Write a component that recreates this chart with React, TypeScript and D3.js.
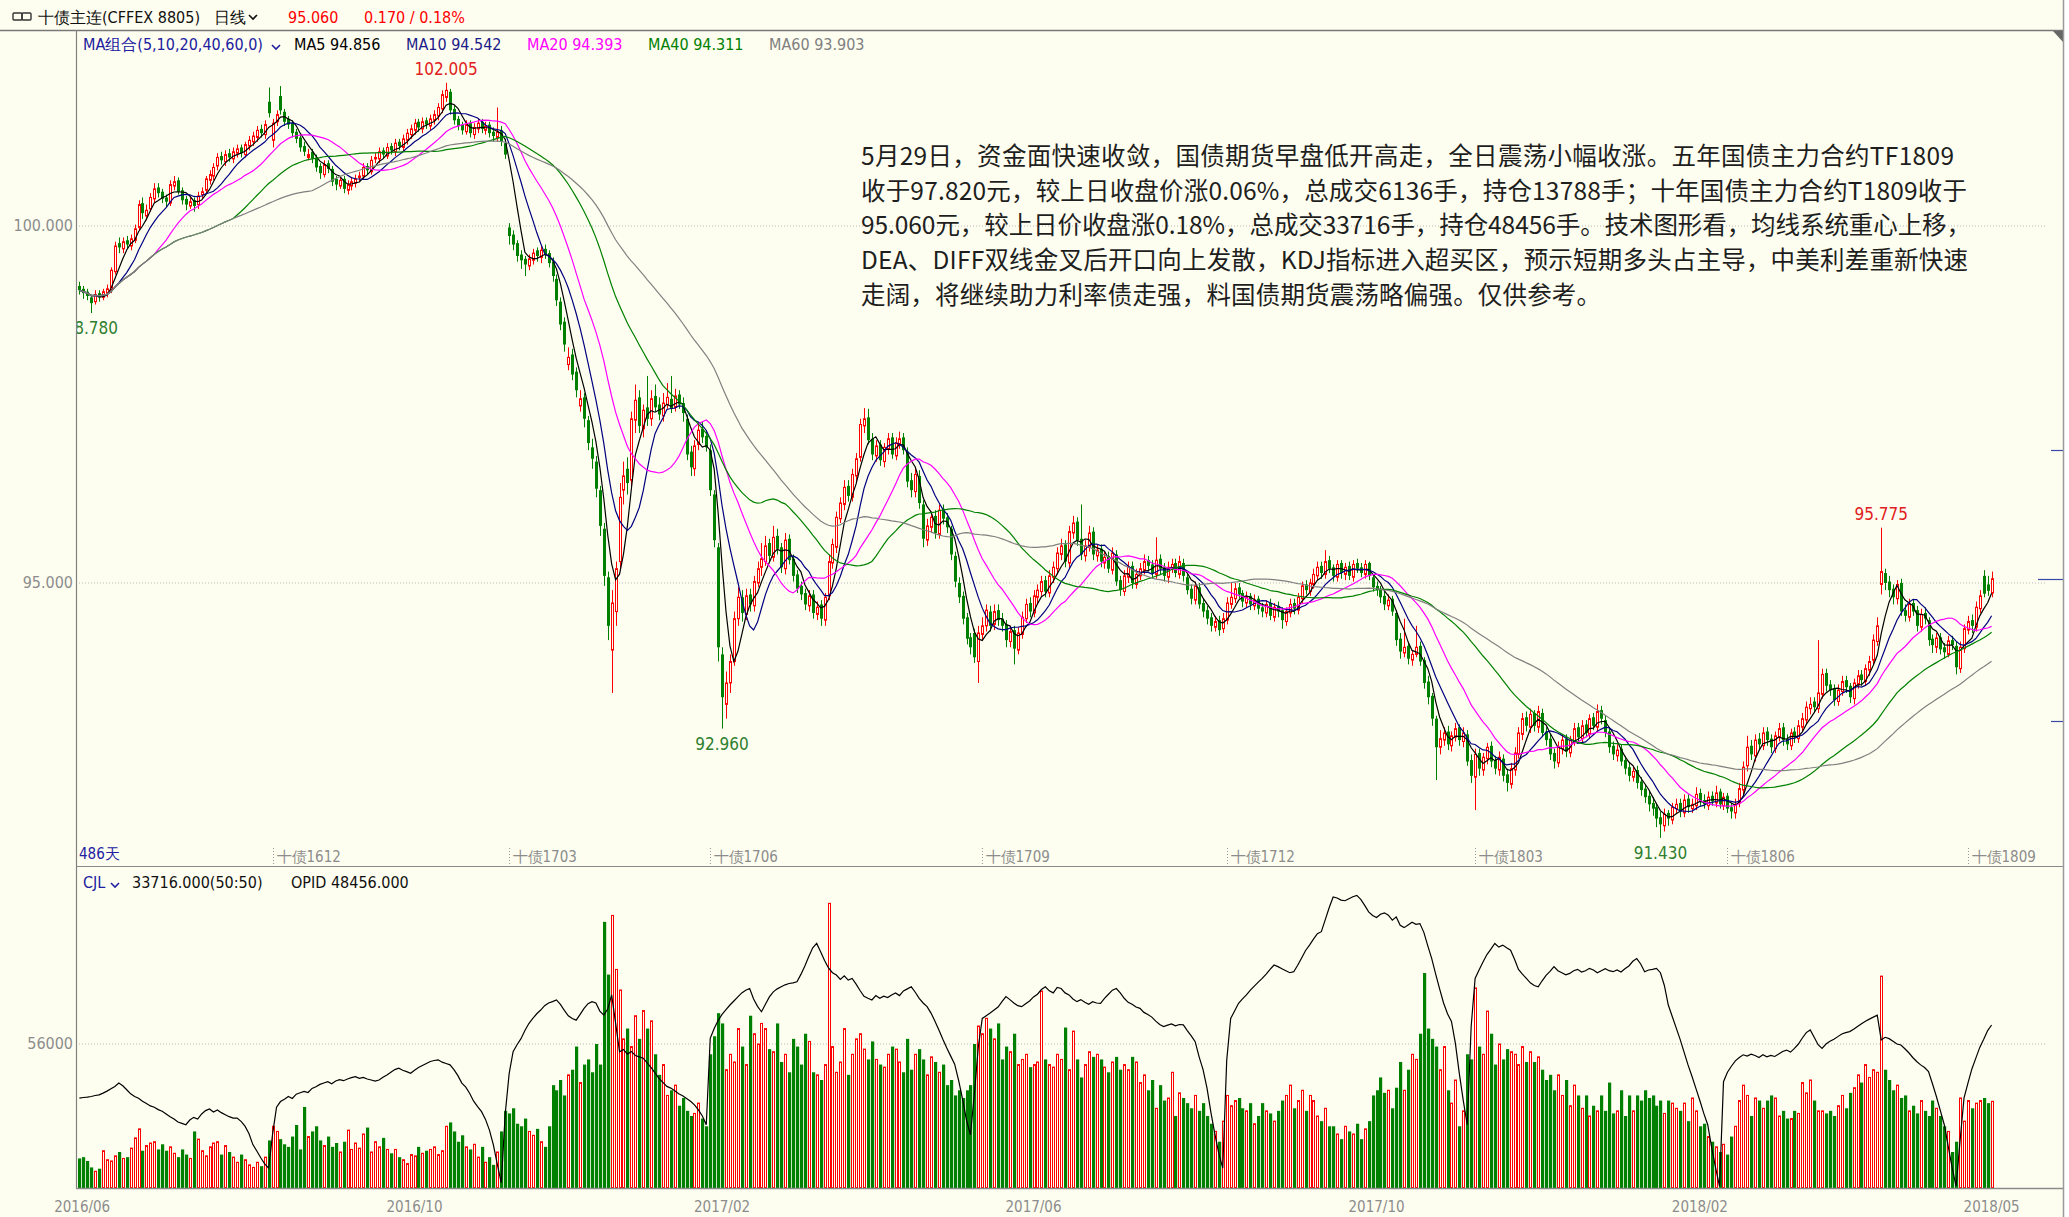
import React from "react";
import * as d3 from "d3";

const W = 2069;
const H = 1217;

// ---- daily data (486 trading days, 2016/06 - 2018/05/29) ----
const closePrices = [
  99.10, 99.06, 99.02, 98.92, 99.04, 99.00, 99.08, 99.12, 99.38, 99.72,
  99.70, 99.78, 99.74, 99.82, 99.96, 100.30, 100.18, 100.22, 100.40, 100.52,
  100.46, 100.38, 100.34, 100.58, 100.62, 100.48, 100.36, 100.30, 100.34, 100.28,
  100.42, 100.48, 100.66, 100.72, 100.82, 100.96, 100.92, 101.00, 100.96, 101.04,
  101.08, 101.02, 101.14, 101.20, 101.26, 101.34, 101.30, 101.42, 101.58, 101.44,
  101.56, 101.62, 101.46, 101.42, 101.30, 101.22, 101.10, 101.04, 101.00, 100.94,
  100.82, 100.74, 100.86, 100.80, 100.62, 100.58, 100.64, 100.52, 100.58, 100.62,
  100.66, 100.70, 100.82, 100.78, 100.92, 100.96, 101.04, 101.00, 101.10, 101.06,
  101.16, 101.12, 101.22, 101.30, 101.36, 101.44, 101.38, 101.46, 101.42, 101.50,
  101.56, 101.66, 101.84, 101.90, 101.62, 101.48, 101.40, 101.34, 101.42, 101.30,
  101.38, 101.44, 101.36, 101.40, 101.30, 101.26, 101.32, 101.18, 101.00, 99.86,
  99.74, 99.58, 99.52, 99.46, 99.54, 99.62, 99.58, 99.66, 99.60, 99.48,
  99.30, 98.96, 98.62, 98.34, 98.16, 97.92, 97.70, 97.58, 97.30, 96.96,
  96.74, 96.32, 95.80, 95.10, 94.40, 94.72, 95.20, 96.20, 96.50, 96.40,
  97.30, 97.56, 97.20, 97.42, 97.30, 97.58, 97.46, 97.36, 97.52, 97.60,
  97.44, 97.62, 97.50, 97.38, 96.80, 96.62, 96.92, 97.14, 97.04, 96.90,
  96.30, 95.60, 94.10, 93.40, 93.60, 93.90, 94.50, 94.80, 94.58, 94.82,
  94.70, 95.02, 95.20, 95.34, 95.52, 95.38, 95.64, 95.48, 95.22, 95.60,
  95.32, 95.10, 94.92, 94.84, 94.70, 94.82, 94.58, 94.66, 94.50, 94.80,
  95.30, 95.54, 95.92, 96.12, 96.34, 96.22, 96.52, 96.74, 97.22, 97.30,
  97.00, 96.80, 96.92, 96.72, 96.90, 97.02, 96.80, 96.96, 97.02, 96.86,
  96.42, 96.30, 96.52, 96.12, 95.62, 95.80, 95.92, 95.70, 96.02, 95.90,
  95.78, 95.40, 95.02, 94.80, 94.50, 94.22, 94.10, 93.96, 94.30, 94.40,
  94.62, 94.40, 94.60, 94.48, 94.40, 94.20, 94.32, 94.08, 94.30, 94.52,
  94.70, 94.60, 94.82, 94.90, 95.02, 94.88, 95.10, 95.22, 95.42, 95.52,
  95.30, 95.72, 95.84, 95.60, 95.40, 95.52, 95.70, 95.40, 95.46, 95.30,
  95.36, 95.20, 95.42, 95.02, 94.90, 95.10, 95.22, 95.00, 95.12, 95.20,
  95.30, 95.24, 95.14, 95.32, 95.20, 95.10, 95.22, 95.26, 95.14, 95.30,
  95.10, 94.90, 94.78, 94.96, 94.70, 94.60, 94.50, 94.40, 94.46, 94.34,
  94.50, 94.72, 94.80, 94.92, 94.84, 94.74, 94.80, 94.70, 94.76, 94.64,
  94.60, 94.70, 94.54, 94.66, 94.60, 94.48, 94.60, 94.70, 94.64, 94.80,
  94.96, 94.90, 95.00, 95.12, 95.22, 95.14, 95.30, 95.20, 95.10, 95.26,
  95.14, 95.22, 95.10, 95.26, 95.20, 95.14, 95.26, 95.10, 94.94, 94.90,
  94.80, 94.70, 94.76, 94.60, 94.20, 94.04, 94.10, 93.94, 94.00, 94.10,
  93.90, 93.60, 93.40, 93.10, 92.70, 92.82, 92.90, 92.74, 92.86, 92.96,
  92.80, 92.90, 92.50, 92.30, 92.60, 92.40, 92.56, 92.70, 92.50, 92.40,
  92.56, 92.30, 92.20, 92.40, 92.62, 92.90, 93.10, 93.00, 93.16, 93.00,
  93.20, 92.90, 92.80, 92.60, 92.50, 92.70, 92.80, 92.64, 92.80, 92.96,
  92.84, 93.00, 92.90, 93.10, 93.00, 93.20, 93.10, 92.90, 92.70, 92.60,
  92.66, 92.50, 92.40, 92.30, 92.36, 92.20, 92.10, 92.00, 91.90, 91.84,
  91.70, 91.62, 91.76, 91.70, 91.86, 91.90, 91.80, 91.96, 91.86, 91.90,
  92.04, 91.94, 91.90, 92.00, 91.94, 92.06, 91.90, 92.00, 91.84, 91.80,
  91.90, 92.12, 92.42, 92.70, 92.60, 92.80, 92.74, 92.90, 92.80, 92.70,
  92.86, 92.96, 92.80, 92.74, 92.90, 92.84, 93.00, 93.10, 93.26, 93.30,
  93.26, 93.46, 93.72, 93.56, 93.50, 93.36, 93.50, 93.62, 93.54, 93.40,
  93.60, 93.70, 93.64, 93.80, 93.90, 94.20, 94.40, 95.16, 95.00, 94.90,
  94.80, 94.98, 94.60, 94.54, 94.70, 94.60, 94.40, 94.56, 94.50, 94.20,
  94.13, 94.23, 94.07, 94.03, 94.19, 94.13, 93.82, 94.10, 94.36, 94.46,
  94.40, 94.66, 94.82, 94.85, 94.89, 95.06,
];

const openPrices = [
  99.16, 99.12, 99.08, 99.00, 98.94, 99.06, 99.00, 99.06, 99.10, 99.36,
  99.76, 99.68, 99.80, 99.72, 99.80, 99.98, 100.32, 100.14, 100.24, 100.38,
  100.54, 100.48, 100.40, 100.32, 100.56, 100.64, 100.50, 100.38, 100.28, 100.36,
  100.30, 100.44, 100.50, 100.64, 100.70, 100.84, 100.98, 100.90, 101.02, 100.94,
  101.02, 101.10, 101.00, 101.12, 101.18, 101.24, 101.36, 101.28, 101.74, 101.20,
  101.46, 101.82, 101.60, 101.50, 101.44, 101.32, 101.24, 101.12, 100.96, 101.04,
  100.96, 100.84, 100.72, 100.88, 100.80, 100.66, 100.56, 100.66, 100.50, 100.56,
  100.60, 100.68, 100.70, 100.84, 100.76, 100.94, 100.94, 101.06, 100.98, 101.12,
  101.04, 101.18, 101.10, 101.20, 101.28, 101.34, 101.46, 101.36, 101.48, 101.40,
  101.48, 101.54, 101.64, 101.80, 101.88, 101.64, 101.50, 101.42, 101.32, 101.44,
  101.28, 101.36, 101.46, 101.34, 101.42, 101.32, 101.24, 101.34, 101.16, 99.98,
  99.88, 99.76, 99.60, 99.54, 99.44, 99.52, 99.66, 99.56, 99.68, 99.62,
  99.50, 99.26, 98.94, 98.66, 98.06, 98.20, 97.96, 97.48, 97.60, 97.28,
  96.90, 96.70, 96.30, 95.76, 95.08, 94.06, 94.60, 95.30, 96.30, 96.60,
  96.44, 97.28, 97.60, 97.16, 97.46, 97.30, 97.62, 97.50, 97.34, 97.50,
  97.58, 97.46, 97.64, 97.52, 97.30, 96.84, 96.60, 96.94, 97.16, 97.06,
  96.86, 96.24, 95.50, 94.00, 93.30, 93.60, 93.90, 94.50, 94.80, 94.56,
  94.84, 94.68, 95.00, 95.22, 95.30, 95.56, 95.36, 95.66, 95.50, 95.20,
  95.62, 95.34, 95.12, 94.96, 94.86, 94.68, 94.84, 94.56, 94.70, 94.48,
  94.82, 95.28, 95.50, 95.90, 96.10, 96.36, 96.20, 96.50, 96.76, 97.20,
  97.32, 97.02, 96.78, 96.94, 96.70, 96.88, 97.04, 96.78, 96.94, 97.04,
  96.84, 96.44, 96.28, 96.50, 96.10, 95.60, 95.78, 95.94, 95.68, 96.04,
  95.92, 95.76, 95.38, 95.00, 94.82, 94.52, 94.24, 94.30, 93.90, 94.28,
  94.40, 94.60, 94.42, 94.62, 94.50, 94.42, 94.18, 94.34, 94.06, 94.28,
  94.50, 94.72, 94.58, 94.80, 94.88, 95.04, 94.86, 95.08, 95.20, 95.40,
  95.54, 95.28, 95.70, 95.86, 95.62, 95.38, 95.50, 95.72, 95.38, 95.48,
  95.28, 95.38, 95.18, 95.40, 95.04, 94.88, 95.08, 95.24, 94.98, 95.10,
  95.18, 95.32, 95.26, 95.12, 95.34, 95.22, 95.08, 95.20, 95.28, 95.12,
  95.28, 95.08, 94.92, 94.76, 94.94, 94.72, 94.62, 94.52, 94.38, 94.48,
  94.36, 94.48, 94.70, 94.78, 94.94, 94.86, 94.72, 94.82, 94.68, 94.78,
  94.66, 94.58, 94.72, 94.52, 94.68, 94.62, 94.46, 94.58, 94.72, 94.62,
  94.78, 94.98, 94.88, 94.98, 95.10, 95.24, 95.12, 95.32, 95.22, 95.08,
  95.28, 95.12, 95.24, 95.08, 95.28, 95.22, 95.12, 95.28, 95.08, 94.96,
  94.92, 94.82, 94.68, 94.78, 94.58, 94.22, 94.02, 94.12, 93.92, 94.00,
  94.12, 93.92, 93.62, 93.42, 93.10, 92.70, 92.80, 92.92, 92.72, 92.84,
  92.98, 92.78, 92.88, 92.52, 92.28, 92.62, 92.38, 92.54, 92.72, 92.52,
  92.38, 92.54, 92.32, 92.18, 92.38, 92.60, 92.88, 93.12, 92.98, 93.18,
  92.98, 93.18, 92.92, 92.82, 92.62, 92.48, 92.68, 92.82, 92.62, 92.78,
  92.98, 92.82, 93.02, 92.88, 93.12, 92.98, 93.22, 93.08, 92.92, 92.72,
  92.58, 92.68, 92.52, 92.42, 92.28, 92.38, 92.22, 92.12, 92.02, 91.92,
  91.86, 91.72, 91.60, 91.78, 91.68, 91.84, 91.92, 91.78, 91.98, 91.84,
  91.88, 92.06, 91.96, 91.88, 92.02, 91.92, 92.08, 91.88, 92.02, 91.86,
  91.78, 91.92, 92.10, 92.44, 92.72, 92.58, 92.82, 92.72, 92.92, 92.82,
  92.68, 92.84, 92.98, 92.82, 92.72, 92.92, 92.82, 92.98, 93.08, 93.24,
  93.34, 93.24, 93.44, 93.74, 93.58, 93.52, 93.34, 93.48, 93.64, 93.56,
  93.38, 93.58, 93.72, 93.62, 93.78, 93.92, 94.18, 94.98, 95.14, 95.02,
  94.92, 94.78, 95.00, 94.62, 94.52, 94.72, 94.62, 94.38, 94.58, 94.48,
  94.22, 94.10, 94.24, 94.10, 94.00, 94.20, 94.12, 93.80, 94.08, 94.34,
  94.48, 94.38, 94.64, 95.10, 94.98, 94.86,
];

const highPrices = [
  99.22, 99.16, 99.12, 99.04, 99.10, 99.10, 99.12, 99.18, 99.42, 99.78,
  99.84, 99.84, 99.86, 99.88, 100.02, 100.36, 100.40, 100.30, 100.46, 100.60,
  100.60, 100.52, 100.44, 100.64, 100.70, 100.68, 100.54, 100.42, 100.40, 100.40,
  100.48, 100.54, 100.70, 100.78, 100.88, 101.02, 101.04, 101.06, 101.08, 101.10,
  101.14, 101.14, 101.18, 101.26, 101.32, 101.40, 101.42, 101.48, 101.94, 101.50,
  101.62, 101.96, 101.64, 101.54, 101.48, 101.36, 101.28, 101.18, 101.08, 101.08,
  101.00, 100.88, 100.92, 100.92, 100.84, 100.70, 100.70, 100.70, 100.64, 100.68,
  100.72, 100.76, 100.88, 100.88, 100.98, 101.02, 101.10, 101.10, 101.16, 101.16,
  101.22, 101.22, 101.28, 101.36, 101.42, 101.50, 101.50, 101.52, 101.52, 101.56,
  101.62, 101.72, 101.90, 102.005, 101.92, 101.68, 101.54, 101.46, 101.48, 101.48,
  101.44, 101.50, 101.50, 101.46, 101.46, 101.38, 101.66, 101.40, 101.22, 100.04,
  99.94, 99.80, 99.66, 99.58, 99.60, 99.68, 99.70, 99.72, 99.74, 99.66,
  99.56, 99.32, 99.00, 98.72, 98.30, 98.28, 98.02, 97.70, 97.66, 97.34,
  97.02, 96.78, 96.36, 95.84, 95.16, 94.90, 95.30, 96.40, 96.70, 96.76,
  97.40, 97.78, 97.70, 97.50, 97.90, 97.70, 97.78, 97.60, 97.66, 97.80,
  97.90, 97.72, 97.70, 97.60, 97.36, 96.92, 97.00, 97.24, 97.26, 97.14,
  96.94, 96.30, 95.56, 94.10, 93.76, 94.00, 94.60, 94.94, 94.90, 94.92,
  94.92, 95.10, 95.30, 95.56, 95.66, 95.62, 95.80, 95.76, 95.56, 95.70,
  95.68, 95.40, 95.18, 95.02, 94.92, 94.90, 94.90, 94.74, 94.76, 94.86,
  95.40, 95.62, 96.00, 96.20, 96.44, 96.44, 96.60, 96.82, 97.30, 97.45,
  97.44, 97.10, 97.00, 97.00, 96.96, 97.10, 97.10, 97.04, 97.12, 97.10,
  96.90, 96.54, 96.60, 96.58, 96.16, 95.90, 96.00, 96.02, 96.10, 96.10,
  95.98, 95.80, 95.44, 95.08, 94.88, 94.58, 94.30, 94.36, 94.40, 94.52,
  94.70, 94.68, 94.70, 94.70, 94.58, 94.48, 94.40, 94.40, 94.38, 94.60,
  94.78, 94.80, 94.90, 94.98, 95.10, 95.10, 95.18, 95.30, 95.50, 95.62,
  95.60, 95.80, 95.94, 95.92, 96.10, 95.60, 95.80, 95.78, 95.54, 95.54,
  95.44, 95.44, 95.50, 95.46, 95.10, 95.18, 95.30, 95.30, 95.20, 95.28,
  95.40, 95.38, 95.32, 95.64, 95.40, 95.28, 95.30, 95.34, 95.34, 95.38,
  95.34, 95.14, 94.98, 95.02, 95.00, 94.78, 94.68, 94.58, 94.54, 94.54,
  94.58, 94.80, 95.00, 95.00, 95.00, 94.90, 94.88, 94.86, 94.84, 94.82,
  94.72, 94.76, 94.78, 94.72, 94.74, 94.66, 94.66, 94.78, 94.78, 94.86,
  95.02, 95.04, 95.06, 95.20, 95.30, 95.30, 95.46, 95.38, 95.26, 95.32,
  95.32, 95.28, 95.30, 95.32, 95.34, 95.28, 95.32, 95.30, 95.12, 95.02,
  94.96, 94.88, 94.84, 94.82, 94.62, 94.30, 94.50, 94.16, 94.06, 94.40,
  94.18, 93.96, 93.70, 93.46, 93.14, 92.94, 92.98, 93.00, 92.92, 93.04,
  93.02, 92.98, 92.94, 92.60, 92.68, 92.68, 92.62, 92.76, 92.78, 92.58,
  92.64, 92.60, 92.40, 92.48, 92.70, 92.98, 93.18, 93.20, 93.24, 93.22,
  93.28, 93.24, 92.98, 92.88, 92.68, 92.78, 92.88, 92.88, 92.86, 93.04,
  93.04, 93.08, 93.08, 93.16, 93.18, 93.30, 93.28, 93.14, 92.98, 92.78,
  92.74, 92.74, 92.58, 92.48, 92.44, 92.44, 92.28, 92.18, 92.08, 92.00,
  91.92, 91.80, 91.84, 91.82, 91.92, 91.98, 91.98, 92.04, 92.04, 91.98,
  92.14, 92.12, 92.04, 92.08, 92.08, 92.16, 92.12, 92.06, 92.06, 91.92,
  91.98, 92.20, 92.50, 92.86, 92.80, 92.88, 92.90, 92.98, 92.98, 92.88,
  92.92, 93.04, 93.04, 92.88, 92.96, 92.98, 93.08, 93.18, 93.34, 93.40,
  93.40, 94.20, 93.80, 93.80, 93.64, 93.58, 93.58, 93.70, 93.70, 93.60,
  93.66, 93.78, 93.78, 93.86, 93.98, 94.28, 94.52, 95.775, 95.20, 95.10,
  94.98, 95.04, 95.06, 94.70, 94.78, 94.78, 94.68, 94.64, 94.66, 94.52,
  94.28, 94.30, 94.30, 94.16, 94.26, 94.26, 94.18, 94.18, 94.42, 94.54,
  94.56, 94.74, 94.90, 95.18, 95.10, 95.16,
];

const lowPrices = [
  99.04, 98.98, 98.96, 98.78, 98.90, 98.94, 98.96, 99.00, 99.06, 99.32,
  99.62, 99.62, 99.68, 99.66, 99.76, 99.94, 100.10, 100.08, 100.20, 100.32,
  100.40, 100.32, 100.26, 100.28, 100.50, 100.44, 100.30, 100.22, 100.24, 100.20,
  100.24, 100.38, 100.44, 100.58, 100.64, 100.78, 100.86, 100.84, 100.90, 100.88,
  100.96, 100.96, 100.96, 101.06, 101.12, 101.18, 101.24, 101.22, 101.52, 101.10,
  101.40, 101.56, 101.40, 101.36, 101.24, 101.16, 101.04, 100.98, 100.92, 100.88,
  100.76, 100.66, 100.68, 100.74, 100.56, 100.50, 100.52, 100.46, 100.44, 100.50,
  100.54, 100.62, 100.66, 100.72, 100.72, 100.88, 100.88, 100.94, 100.94, 101.00,
  100.98, 101.06, 101.04, 101.14, 101.22, 101.28, 101.32, 101.30, 101.36, 101.34,
  101.42, 101.48, 101.58, 101.74, 101.56, 101.42, 101.34, 101.28, 101.28, 101.24,
  101.22, 101.30, 101.30, 101.28, 101.24, 101.18, 101.18, 101.12, 100.94, 99.74,
  99.66, 99.50, 99.40, 99.30, 99.38, 99.46, 99.50, 99.48, 99.54, 99.42,
  99.22, 98.88, 98.54, 98.24, 97.98, 97.84, 97.60, 97.40, 97.18, 96.86,
  96.60, 96.20, 95.66, 94.96, 94.20, 93.46, 94.40, 95.20, 96.10, 96.24,
  96.36, 97.10, 97.10, 97.04, 97.20, 97.20, 97.40, 97.28, 97.26, 97.44,
  97.38, 97.40, 97.44, 97.26, 96.72, 96.50, 96.50, 96.86, 96.96, 96.84,
  96.22, 95.50, 93.90, 92.96, 93.10, 93.46, 93.84, 94.40, 94.46, 94.48,
  94.60, 94.60, 94.94, 95.10, 95.24, 95.30, 95.30, 95.40, 95.14, 95.12,
  95.26, 95.02, 94.86, 94.76, 94.62, 94.60, 94.50, 94.48, 94.40, 94.40,
  94.76, 95.20, 95.42, 95.84, 96.02, 96.14, 96.14, 96.42, 96.70, 97.10,
  96.94, 96.72, 96.70, 96.64, 96.62, 96.80, 96.74, 96.72, 96.88, 96.80,
  96.34, 96.20, 96.20, 96.04, 95.50, 95.52, 95.70, 95.62, 95.62, 95.82,
  95.70, 95.32, 94.94, 94.72, 94.42, 94.14, 94.00, 93.88, 93.60, 94.20,
  94.32, 94.32, 94.34, 94.40, 94.32, 94.10, 94.10, 93.86, 94.00, 94.22,
  94.44, 94.52, 94.52, 94.72, 94.82, 94.80, 94.80, 95.00, 95.12, 95.32,
  95.22, 95.20, 95.62, 95.52, 95.32, 95.30, 95.44, 95.32, 95.30, 95.22,
  95.20, 95.14, 95.12, 94.96, 94.82, 94.82, 95.00, 94.92, 94.92, 95.04,
  95.12, 95.16, 95.06, 95.06, 95.12, 95.02, 95.00, 95.14, 95.08, 95.06,
  95.02, 94.84, 94.70, 94.70, 94.64, 94.52, 94.42, 94.32, 94.32, 94.26,
  94.30, 94.42, 94.64, 94.72, 94.78, 94.66, 94.66, 94.62, 94.62, 94.56,
  94.52, 94.52, 94.48, 94.46, 94.52, 94.36, 94.40, 94.52, 94.56, 94.56,
  94.72, 94.84, 94.82, 94.92, 95.04, 95.06, 95.06, 95.14, 95.02, 95.02,
  95.06, 95.04, 95.04, 95.02, 95.14, 95.08, 95.06, 95.04, 94.88, 94.82,
  94.72, 94.62, 94.62, 94.54, 94.12, 93.94, 93.96, 93.86, 93.84, 93.96,
  93.84, 93.52, 93.30, 93.00, 92.24, 92.60, 92.72, 92.66, 92.64, 92.78,
  92.72, 92.70, 92.44, 92.20, 91.82, 92.30, 92.30, 92.46, 92.42, 92.32,
  92.30, 92.22, 92.08, 92.12, 92.30, 92.54, 92.80, 92.92, 92.90, 92.92,
  92.90, 92.84, 92.72, 92.52, 92.40, 92.42, 92.60, 92.56, 92.56, 92.72,
  92.76, 92.76, 92.84, 92.82, 92.94, 92.92, 93.02, 92.84, 92.62, 92.52,
  92.50, 92.44, 92.32, 92.22, 92.22, 92.12, 92.02, 91.92, 91.80, 91.74,
  91.58, 91.43, 91.52, 91.60, 91.62, 91.78, 91.72, 91.72, 91.78, 91.78,
  91.82, 91.88, 91.84, 91.82, 91.88, 91.86, 91.84, 91.82, 91.78, 91.70,
  91.70, 91.86, 92.04, 92.36, 92.52, 92.50, 92.66, 92.66, 92.72, 92.62,
  92.62, 92.78, 92.72, 92.66, 92.66, 92.76, 92.76, 92.92, 93.02, 93.16,
  93.18, 93.18, 93.38, 93.48, 93.42, 93.28, 93.28, 93.42, 93.46, 93.32,
  93.30, 93.52, 93.56, 93.56, 93.70, 93.86, 94.12, 94.84, 94.90, 94.80,
  94.70, 94.70, 94.54, 94.46, 94.46, 94.54, 94.32, 94.32, 94.42, 94.12,
  94.02, 94.02, 94.00, 93.94, 93.96, 94.06, 93.72, 93.74, 94.02, 94.28,
  94.30, 94.32, 94.58, 94.80, 94.82, 94.80,
];

// volume, thousand lots
const volumeK = [
  11.5, 12.0, 10.5, 8.0, 6.5, 7.5, 14.5, 11.0, 10.5, 12.5,
  14.0, 11.5, 12.0, 15.5, 19.5, 23.0, 14.5, 16.5, 17.5, 18.0,
  15.0, 17.0, 14.5, 16.0, 13.5, 12.0, 15.0, 13.0, 11.5, 22.0,
  19.0, 14.5, 12.5, 16.0, 17.5, 18.0, 13.0, 16.5, 14.0, 12.0,
  10.0, 13.0, 11.0, 9.0, 8.0, 10.0, 8.5, 12.0, 18.5, 24.0,
  22.0, 19.0, 17.0, 16.0, 20.0, 24.5, 15.0, 31.5, 20.0, 22.0,
  24.0, 18.5, 16.5, 20.0, 16.0, 17.5, 14.0, 18.0, 22.5, 15.0,
  17.5, 15.5, 21.0, 23.5, 14.0, 18.0, 16.0, 19.5, 15.0, 13.5,
  15.0, 12.0, 11.0, 9.5, 13.0, 12.5, 16.0, 13.5, 14.5, 15.0,
  16.0, 13.0, 14.5, 24.0, 25.5, 22.0, 18.0, 20.5, 16.0, 15.0,
  17.0, 12.0, 16.0, 10.0, 12.0, 9.0, 14.0, 22.0, 30.0, 29.0,
  31.0, 25.0, 24.0, 27.0, 22.0, 20.5, 23.0, 18.0, 16.0, 24.0,
  40.0, 38.0, 42.0, 36.0, 44.0, 46.0, 55.0, 41.0, 48.0, 50.0,
  45.0, 56.0, 48.0, 103.5, 83.0, 106.0, 85.0, 77.0, 58.0, 62.0,
  55.0, 67.0, 58.0, 69.0, 62.0, 65.0, 52.0, 44.0, 48.0, 36.0,
  38.0, 40.0, 32.0, 35.0, 30.0, 28.0, 29.0, 33.0, 27.0, 24.0,
  52.0, 59.0, 68.0, 64.0, 46.0, 52.0, 49.0, 62.0, 55.0, 48.0,
  67.0, 60.0, 56.0, 64.0, 62.0, 54.0, 53.0, 64.0, 49.0, 52.0,
  45.0, 58.0, 55.0, 48.0, 60.0, 57.0, 45.0, 44.0, 42.0, 48.0,
  110.7, 55.0, 45.0, 49.0, 62.0, 44.0, 52.0, 58.0, 60.0, 54.0,
  50.0, 57.0, 50.0, 48.0, 47.0, 52.0, 55.0, 54.0, 49.0, 45.0,
  58.0, 46.0, 52.0, 54.0, 50.0, 44.0, 51.0, 49.0, 45.0, 48.0,
  40.0, 42.0, 36.0, 38.0, 35.0, 38.0, 40.0, 56.0, 63.0, 60.0,
  66.0, 62.0, 58.0, 64.0, 50.0, 55.0, 53.0, 60.0, 48.0, 50.0,
  52.0, 47.0, 48.0, 49.0, 76.6, 50.0, 48.0, 47.0, 52.0, 50.0,
  62.4, 46.0, 61.0, 50.0, 43.0, 48.0, 53.0, 51.0, 52.0, 50.0,
  47.0, 45.0, 49.0, 51.0, 46.0, 48.0, 46.0, 51.0, 49.0, 41.0,
  44.0, 38.0, 42.0, 31.0, 40.0, 34.0, 35.0, 45.0, 28.0, 37.0,
  35.0, 33.0, 31.0, 36.0, 30.0, 33.0, 28.0, 25.0, 22.0, 18.0,
  26.0, 36.0, 32.0, 34.0, 35.0, 31.0, 30.0, 33.0, 25.0, 28.0,
  33.0, 30.0, 29.0, 26.0, 30.0, 34.0, 36.0, 40.0, 31.0, 34.0,
  38.0, 30.0, 36.0, 34.0, 28.0, 26.0, 31.0, 24.0, 24.0, 21.0,
  19.0, 24.0, 22.0, 21.0, 25.0, 19.0, 23.0, 26.0, 36.0, 38.0,
  43.0, 37.0, 38.0, 31.0, 39.0, 49.0, 38.0, 46.0, 52.0, 50.0,
  60.0, 83.6, 62.0, 58.0, 55.0, 46.0, 55.0, 38.0, 33.0, 42.0,
  24.0, 30.0, 52.0, 50.0, 77.8, 55.0, 52.0, 68.8, 60.0, 48.0,
  56.0, 50.0, 54.0, 53.0, 52.0, 48.0, 55.0, 49.0, 53.0, 49.0,
  51.0, 46.0, 42.0, 44.0, 38.0, 44.0, 36.0, 42.0, 32.0, 40.0,
  36.0, 31.0, 36.0, 28.0, 32.0, 30.0, 36.0, 30.0, 41.0, 29.0,
  30.0, 38.0, 28.0, 36.0, 30.0, 36.0, 34.0, 38.0, 35.0, 36.0,
  32.0, 34.0, 29.0, 34.0, 33.0, 31.0, 30.0, 33.0, 26.0, 35.0,
  30.0, 24.0, 25.0, 20.0, 18.0, 16.0, 14.0, 17.0, 13.0, 20.0,
  24.0, 34.0, 40.0, 36.0, 28.0, 35.0, 34.0, 31.0, 34.0, 36.0,
  35.0, 28.0, 30.0, 27.0, 27.0, 30.0, 29.0, 41.0, 37.0, 42.0,
  34.0, 30.0, 30.0, 29.0, 30.0, 28.0, 32.0, 36.0, 31.0, 37.0,
  39.0, 44.0, 41.0, 48.0, 43.0, 46.0, 45.0, 82.4, 46.0, 42.0,
  38.0, 40.0, 35.0, 36.0, 30.0, 32.0, 29.0, 34.0, 30.0, 28.0,
  34.0, 31.0, 28.0, 24.0, 22.0, 14.0, 18.0, 35.0, 26.0, 34.0,
  31.0, 33.0, 34.0, 35.0, 33.0, 33.716,
];

// open interest (OPID), thousand lots
const openInterestK = [
  26.7, 26.9, 27.0, 27.2, 27.5, 27.7, 28.2, 28.8, 29.5, 30.2,
  31.2, 30.4, 29.2, 28.0, 27.2, 26.7, 25.8, 25.1, 24.4, 24.0,
  23.3, 22.8, 22.0, 21.2, 20.5, 19.6, 19.2, 18.8, 20.2, 21.0,
  20.5, 22.0, 23.0, 23.5, 22.6, 23.2, 22.4, 21.8, 21.2, 20.8,
  20.8, 19.8, 18.4, 16.2, 12.9, 11.0, 9.0, 7.2, 5.9, 16.0,
  24.0, 25.7, 26.4, 27.2, 26.6, 27.9, 28.3, 28.7, 28.4, 29.6,
  30.1, 30.8, 31.2, 31.6, 31.0, 31.8, 32.2, 31.9, 32.4, 32.8,
  33.1, 32.6, 32.9, 32.4, 32.1, 31.8, 32.1, 32.9, 33.6, 34.4,
  35.2, 35.6, 35.0, 34.6, 34.1, 35.0, 35.8, 36.4, 37.0, 37.6,
  37.9, 38.1, 37.4, 37.0, 36.6, 35.2, 33.4, 31.2, 30.0, 28.1,
  25.8, 24.2, 22.7, 20.4, 17.2, 12.8, 7.0, 1.5, 22.0, 34.0,
  40.5, 42.6, 44.4, 46.8, 48.9, 50.4, 51.8, 52.9, 54.2, 55.0,
  55.4, 55.9, 54.6, 52.8, 51.2, 50.4, 49.9, 51.6, 53.4, 54.8,
  55.4, 55.0, 52.6, 51.4, 53.2, 57.4, 49.0, 40.5, 41.2, 39.8,
  40.6, 39.4, 39.0, 38.6, 37.2, 35.8, 34.2, 32.6, 31.4, 30.2,
  29.7, 28.9, 28.0, 27.4, 26.6, 25.8, 24.7, 23.2, 21.4, 18.8,
  44.5, 47.4, 49.8, 51.6, 53.0, 54.4, 55.6, 56.8, 58.0, 58.8,
  59.3, 56.2, 54.0, 52.4, 54.6, 56.8, 58.3, 59.2, 59.8, 60.4,
  60.8, 61.0, 61.3, 63.5, 66.0, 68.8, 71.4, 72.7, 70.2, 67.6,
  65.4, 64.0, 63.3, 62.0, 63.1, 61.8, 62.3, 60.6, 58.7, 57.0,
  56.4, 55.9, 57.2, 56.4, 57.0, 56.6, 57.4, 58.0, 57.2, 58.6,
  59.2, 59.8, 58.2, 56.4, 55.0, 53.9, 52.0, 49.6, 47.0, 44.2,
  41.6, 39.2, 36.8, 32.0, 26.4, 20.2, 15.8, 28.0, 42.0, 50.4,
  51.2, 52.0, 52.9, 53.8, 55.4, 56.9, 56.0, 55.0, 54.2, 53.9,
  54.8, 55.6, 56.8, 57.6, 59.0, 59.8, 58.6, 58.0, 59.6, 59.3,
  58.0, 57.4, 56.2, 55.4, 56.0, 55.2, 54.6, 55.4, 55.0, 54.9,
  56.4, 57.6, 58.8, 59.3, 58.0, 56.4, 55.2, 54.6, 53.8, 53.4,
  52.2, 51.6, 50.8, 49.6, 48.6, 48.0, 48.4, 48.8, 48.2, 48.6,
  48.5, 46.8, 45.2, 43.5, 39.0, 35.2, 29.7, 22.4, 16.0, 10.2,
  5.9, 38.0, 50.4, 52.6, 54.9, 56.2, 57.4, 58.8, 60.0, 61.2,
  62.3, 63.6, 65.0, 66.3, 65.8, 65.2, 64.6, 64.0, 64.3, 66.2,
  68.4, 70.6, 72.2, 74.0, 75.6, 76.2, 79.8, 83.4, 86.5, 86.2,
  85.6, 85.4, 86.0, 86.6, 87.0, 85.8, 84.0, 82.1, 81.0, 80.4,
  81.4, 81.8, 81.1, 79.6, 80.6, 78.1, 77.4, 78.2, 79.0, 78.4,
  78.6, 76.0, 72.0, 68.2, 63.6, 59.2, 55.0, 51.8, 49.5, 43.0,
  34.0, 26.0, 18.8, 48.0, 62.3, 64.8, 67.2, 69.4, 71.0, 72.7,
  71.6, 72.2, 71.4, 70.7, 68.0, 65.0, 63.6, 62.3, 61.0, 60.2,
  59.8, 61.6, 63.2, 64.4, 65.8, 64.6, 64.0, 63.4, 63.8, 64.6,
  65.0, 64.2, 64.6, 65.3, 64.8, 64.0, 64.6, 65.2, 64.6, 64.3,
  64.8, 64.2, 65.2, 66.0, 67.4, 68.2, 66.6, 64.3, 64.8, 65.0,
  65.3, 64.0, 60.2, 54.4, 51.0, 47.6, 44.2, 40.4, 36.6, 33.2,
  29.6, 26.0, 22.2, 18.8, 12.0, 6.0, 0.5, 31.6, 34.4, 36.2,
  37.8, 38.8, 39.6, 39.2, 39.8, 39.4, 38.8, 39.6, 39.0, 39.4,
  39.1, 39.8, 40.6, 41.0, 40.4, 41.5, 42.8, 44.6, 46.2, 47.0,
  44.8, 42.6, 41.5, 42.8, 43.6, 44.2, 45.0, 45.8, 46.2, 46.5,
  47.2, 48.0, 48.8, 49.6, 50.2, 50.8, 51.4, 44.0, 44.8, 44.4,
  43.6, 42.8, 42.5, 41.4, 40.2, 38.8, 37.6, 36.6, 35.8, 34.6,
  31.0, 27.2, 23.0, 18.8, 12.4, 6.0, 0.5, 14.0, 26.7, 31.2,
  35.4, 38.6, 41.8, 44.2, 46.8, 48.456,
];

// ---- labels / indicators ----
const maPeriods = [5, 10, 20, 40, 60];
const maColors = ["#000000", "#000080", "#ff00ff", "#008000", "#808080"];
const maLegendValues = [94.856, 94.542, 94.393, 94.311, 93.903];
const maLegendX = [294, 406, 527, 648, 769];

const priceTicks = [100, 95];
const volumeTicks = [56000];
const rightMarkerPrices = [96.86, 95.06, 93.07];

const contractLabels = ["十债1612", "十债1703", "十债1706", "十债1709", "十债1712", "十债1803", "十债1806", "十债1809"];
const contractIndex = [49, 109, 160, 229, 291, 354, 418, 479];

const dateLabels = ["2016/06", "2016/10", "2017/02", "2017/06", "2017/10", "2018/02", "2018/05"];
const dateIndex = [0.7, 85, 163, 242, 329, 411, 485];

const extremeIndex = [93, 3, 163, 401, 457];
const extremeKind = ["high", "low", "low", "low", "high"];

const noteLines = [
  "5月29日，资金面快速收敛，国债期货早盘低开高走，全日震荡小幅收涨。五年国债主力合约TF1809",
  "收于97.820元，较上日收盘价涨0.06%，总成交6136手，持仓13788手；十年国债主力合约T1809收于",
  "95.060元，较上日价收盘涨0.18%，总成交33716手，持仓48456手。技术图形看，均线系统重心上移，",
  "DEA、DIFF双线金叉后开口向上发散，KDJ指标进入超买区，预示短期多头占主导，中美利差重新快速",
  "走阔，将继续助力利率债走强，料国债期货震荡略偏强。仅供参考。",
];
const noteLineWidths = [1093, 1106, 1110, 1107, 740];

const BG = "#FEFEF0";
const RED = "#ff0000";
const GREEN = "#008000";
const UI_FONT = "'Liberation Sans Narrow','DejaVu Sans Condensed','Noto Sans',sans-serif";
const CJK_FONT = "'Noto Sans CJK SC','Noto Sans',sans-serif";

export default function App() {
  const n = Math.min(closePrices.length, openPrices.length, highPrices.length, lowPrices.length);

  const plotLeft = 76;
  const plotRight = 2063;
  const mainTop = 30;
  const mainBottom = 866;
  const volBottom = 1188;

  const x = d3.scaleLinear().domain([0, 485]).range([79.4, 1991.6]);
  const yP = d3.scaleLinear().domain([95, 100]).range([583, 226]);
  const yV = d3.scaleLinear().domain([0, 56]).range([volBottom, 1044]);
  const yOI = d3.scaleLinear().domain([0, 48.456]).range([volBottom, 1025]);

  const maSeries = maPeriods.map((p) =>
    closePrices.slice(0, n).map((_, i) => d3.mean(closePrices.slice(Math.max(0, i - p + 1), i + 1)) as number)
  );
  const lineGen = d3
    .line<number>()
    .x((_, i) => x(i))
    .y((v) => yP(v));
  const oiLine = d3
    .line<number>()
    .x((_, i) => x(i))
    .y((v) => yOI(v));

  const candles = d3.range(n).map((i) => {
    const o = openPrices[i];
    const c = closePrices[i];
    const hi = Math.max(highPrices[i], o, c);
    const lo = Math.min(lowPrices[i], o, c);
    const up = c >= o;
    const cx = Math.round(x(i)) + 0.5;
    const yTop = yP(Math.max(o, c));
    const yBot = yP(Math.min(o, c));
    const hgt = Math.max(1, yBot - yTop);
    const col = up ? RED : GREEN;
    return (
      <g key={"c" + i}>
        <line x1={cx} x2={cx} y1={yP(hi)} y2={yP(lo)} stroke={col} strokeWidth={1} />
        {up ? (
          <rect x={cx - 1} y={yTop} width={2} height={hgt} fill={BG} stroke={col} strokeWidth={1} />
        ) : (
          <rect x={cx - 1.5} y={yTop} width={3} height={hgt} fill={col} />
        )}
      </g>
    );
  });

  const volBars = d3.range(Math.min(n, volumeK.length)).map((i) => {
    const up = closePrices[i] >= openPrices[i];
    const cx = Math.round(x(i)) + 0.5;
    const yT = yV(volumeK[i]);
    const hgt = volBottom - yT;
    return up ? (
      <rect key={"v" + i} x={cx - 1} y={yT} width={2} height={hgt - 0.5} fill={BG} stroke={RED} strokeWidth={1} />
    ) : (
      <rect key={"v" + i} x={cx - 1.5} y={yT} width={3.2} height={hgt} fill={GREEN} />
    );
  });

  const chevron = (cx: number, cy: number, color: string) => (
    <path d={`M${cx - 4},${cy - 2} L${cx},${cy + 2} L${cx + 4},${cy - 2}`} fill="none" stroke={color} strokeWidth={1.6} />
  );

  return (
    <svg
      width={W}
      height={H}
      viewBox={`0 0 ${W} ${H}`}
      style={{ position: "absolute", left: 0, top: 0, display: "block" }}
    >
      <defs>
        <clipPath id="mainClip">
          <rect x={plotLeft + 0.5} y={mainTop} width={plotRight - plotLeft} height={mainBottom - mainTop} />
        </clipPath>
        <clipPath id="volClip">
          <rect x={plotLeft + 0.5} y={mainBottom} width={plotRight - plotLeft} height={volBottom - mainBottom} />
        </clipPath>
      </defs>
      <rect x={0} y={0} width={W} height={H} fill={BG} />
      <rect x={plotRight + 1} y={0} width={W - plotRight} height={H} fill="#ffffff" />

      {/* header */}
      <g fontFamily={UI_FONT} fontSize={16}>
        <rect x={13} y={13} width={9} height={7} fill="none" stroke="#333" strokeWidth={1.4} rx={1} />
        <rect x={22} y={13} width={9} height={7} fill="none" stroke="#333" strokeWidth={1.4} rx={1} />
        <text x={38} y={23} fill="#111">十债主连(CFFEX 8805)</text>
        <text x={214} y={23} fill="#111">日线</text>
        {chevron(253, 17, "#111")}
        <text x={288} y={23} fill={RED}>95.060</text>
        <text x={364} y={23} fill={RED}>0.170 / 0.18%</text>
      </g>
      <line x1={0} x2={plotRight} y1={mainTop + 0.5} y2={mainTop + 0.5} stroke="#777" strokeWidth={1.5} />
      <path d={`M${plotRight - 10},${mainTop + 1} L${plotRight},${mainTop + 1} L${plotRight},${mainTop + 12} Z`} fill="#666" />

      {/* grid lines */}
      {priceTicks.map((p) => (
        <g key={"pt" + p}>
          <line x1={plotLeft} x2={2045} y1={yP(p)} y2={yP(p)} stroke="#b8b8b8" strokeDasharray="1,2" />
          <text x={73} y={yP(p) + 5} textAnchor="end" fontFamily={UI_FONT} fontSize={16} fill="#8c8c8c">
            {p.toFixed(3)}
          </text>
        </g>
      ))}
      {volumeTicks.map((v) => (
        <g key={"vt" + v}>
          <line x1={plotLeft} x2={2045} y1={yV(v / 1000)} y2={yV(v / 1000)} stroke="#b8b8b8" strokeDasharray="1,2" />
          <text x={73} y={yV(v / 1000) + 5} textAnchor="end" fontFamily={UI_FONT} fontSize={16} fill="#8c8c8c">
            {v}
          </text>
        </g>
      ))}

      {/* annotation */}
      <g fontFamily={CJK_FONT} fontSize={24.5} fill="#1e1e1e">
        {noteLines.map((t, k) => (
          <text key={"n" + k} x={861} y={165 + k * 34.7} textLength={noteLineWidths[k]} lengthAdjust="spacing">
            {t}
          </text>
        ))}
      </g>

      {/* candles and MAs */}
      <g clipPath="url(#mainClip)">
        {candles}
        {maSeries.map((s, k) => (
          <path key={"ma" + k} d={lineGen(s) || ""} fill="none" stroke={maColors[k]} strokeWidth={1.2} />
        ))}
        {extremeIndex.map((idx, k) => {
          const isHigh = extremeKind[k] === "high";
          const v = isHigh ? highPrices[idx] : lowPrices[idx];
          return (
            <text
              key={"ex" + k}
              x={x(idx)}
              y={isHigh ? yP(v) - 8 : yP(v) + 21}
              textAnchor="middle"
              fontFamily={UI_FONT}
              fontSize={17}
              fill={isHigh ? "#e02020" : "#2f7f2f"}
            >
              {v.toFixed(3)}
            </text>
          );
        })}
      </g>

      {/* legend */}
      <g fontFamily={UI_FONT} fontSize={16}>
        <text x={83} y={50} fill="#2020a0">MA组合(5,10,20,40,60,0)</text>
        {chevron(276, 47, "#2020a0")}
        {maPeriods.map((p, k) => (
          <text key={"lg" + k} x={maLegendX[k]} y={50} fill={maColors[k] === "#000080" ? "#1a1a8a" : maColors[k]}>
            {`MA${p} ${maLegendValues[k].toFixed(3)}`}
          </text>
        ))}
      </g>

      {/* contract roll labels */}
      <g fontFamily={UI_FONT} fontSize={15} fill="#8c8c8c">
        {contractLabels.map((lab, k) => {
          const cx = Math.round(x(contractIndex[k])) + 0.5;
          return (
            <g key={"ct" + k}>
              <line x1={cx} x2={cx} y1={848} y2={865} stroke="#9a9a9a" strokeDasharray="1,2" />
              <text x={cx + 3} y={862}>{lab}</text>
            </g>
          );
        })}
        <text x={79} y={859} fill="#2020a0">486天</text>
      </g>

      {/* right markers */}
      {rightMarkerPrices.map((p, k) => (
        <line
          key={"rm" + k}
          x1={k === 1 ? 2038 : 2051}
          x2={plotRight}
          y1={Math.round(yP(p)) + 0.5}
          y2={Math.round(yP(p)) + 0.5}
          stroke="#3848a8"
          strokeWidth={1.2}
        />
      ))}

      {/* panel separators and axes */}
      <line x1={plotLeft} x2={plotRight} y1={mainBottom + 0.5} y2={mainBottom + 0.5} stroke="#8a8a8a" strokeWidth={1.2} />
      <line x1={plotLeft + 0.5} x2={plotLeft + 0.5} y1={mainTop} y2={volBottom} stroke="#808080" strokeWidth={1.2} />

      {/* volume panel */}
      <g clipPath="url(#volClip)">
        {volBars}
        <path d={oiLine(openInterestK.slice(0, n)) || ""} fill="none" stroke="#000" strokeWidth={1.2} />
      </g>
      <g fontFamily={UI_FONT} fontSize={16}>
        <text x={83} y={888} fill="#2020a0">CJL</text>
        {chevron(115, 885, "#2020a0")}
        <text x={132} y={888} fill="#111">
          {`${(volumeK[n - 1] * 1000).toFixed(3)}(50:50)`}
        </text>
        <text x={291} y={888} fill="#111">
          {`OPID ${(openInterestK[n - 1] * 1000).toFixed(3)}`}
        </text>
      </g>
      <line x1={plotLeft} x2={plotRight} y1={volBottom + 0.5} y2={volBottom + 0.5} stroke="#8a8a8a" strokeWidth={1.5} />

      {/* date axis */}
      <g fontFamily={UI_FONT} fontSize={15} fill="#8c8c8c">
        {dateLabels.map((d, k) => (
          <text key={"d" + k} x={x(dateIndex[k])} y={1212} textAnchor="middle">
            {d}
          </text>
        ))}
      </g>

      <line x1={plotRight + 0.5} x2={plotRight + 0.5} y1={0} y2={H} stroke="#9a9a9a" strokeWidth={1.5} />
    </svg>
  );
}
